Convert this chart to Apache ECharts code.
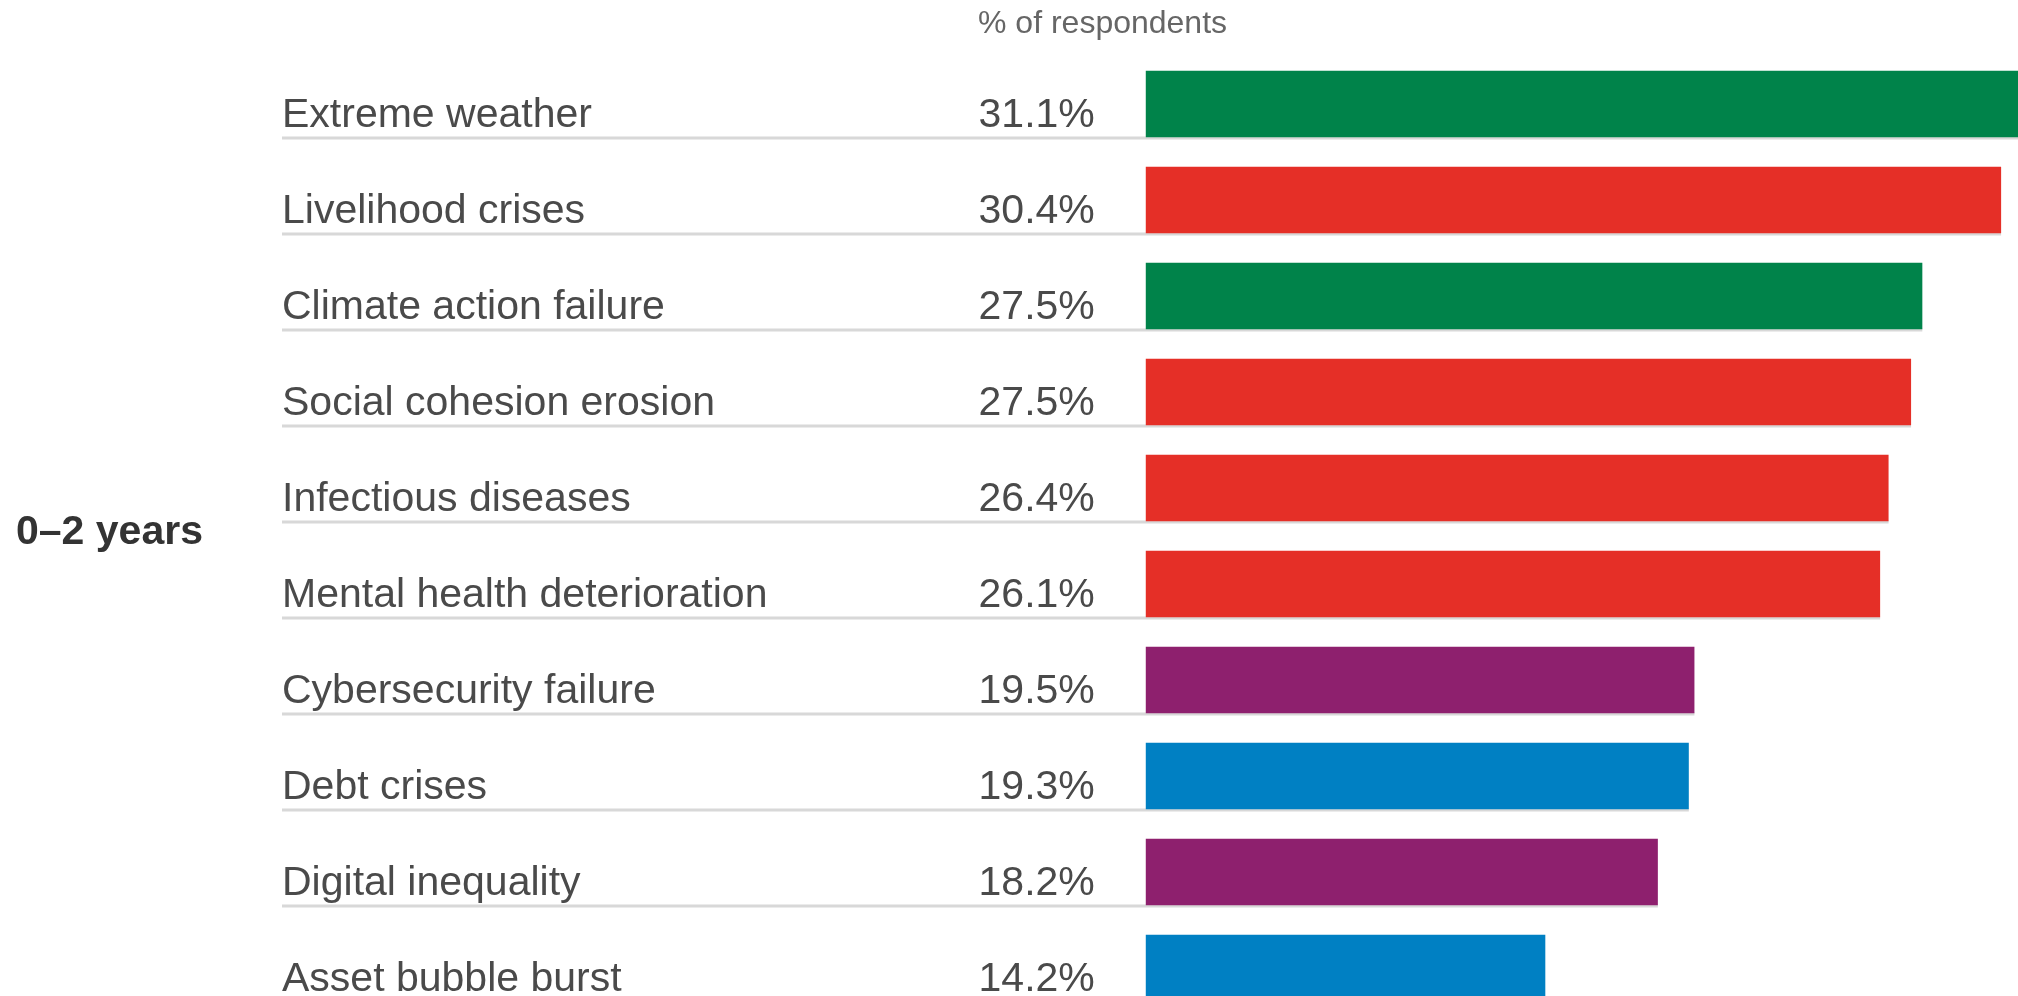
<!DOCTYPE html>
<html>
<head>
<meta charset="utf-8">
<script src="https://cdn.jsdelivr.net/npm/echarts@6/dist/echarts.min.js"></script>
<style>
  html, body { margin: 0; padding: 0; background: #ffffff; }
  #chart { width: 2018px; height: 996px; }
</style>
</head>
<body>
<div id="chart"></div>
<script>
const categories = [
  'Extreme weather',
  'Livelihood crises',
  'Climate action failure',
  'Social cohesion erosion',
  'Infectious diseases',
  'Mental health deterioration',
  'Cybersecurity failure',
  'Debt crises',
  'Digital inequality',
  'Asset bubble burst'
];
// bar lengths
const values = [31.1, 30.4, 27.6, 27.2, 26.4, 26.1, 19.5, 19.3, 18.2, 14.2];
// value labels as printed in the picture
const valueLabels = ['31.1%', '30.4%', '27.5%', '27.5%', '26.4%', '26.1%', '19.5%', '19.3%', '18.2%', '14.2%'];
const riskTypes = [
  'Environmental', 'Societal', 'Environmental', 'Societal', 'Societal',
  'Societal', 'Technological', 'Economic', 'Technological', 'Economic'
];
const unitLabel = '% of respondents';
const horizonLabel = '0\u20132 years';

const colorByType = {
  Environmental: '#00834a',
  Societal: '#e52f27',
  Technological: '#8e206e',
  Economic: '#0080c3'
};

const X_MIN = -30.7;
const X_MAX = 31;
const FONT = '"Liberation Sans", Arial, Helvetica, sans-serif';

const chart = echarts.init(document.getElementById('chart'), null, { renderer: 'canvas' });

chart.setOption({
  backgroundColor: '#ffffff',
  animation: false,
  grid: { left: 282, right: 0, top: 56, height: 960, outerBoundsMode: 'none', containLabel: false },
  xAxis: { type: 'value', min: X_MIN, max: X_MAX, show: false },
  yAxis: { type: 'category', data: categories, inverse: true, show: false },
  graphic: [
    {
      type: 'text', left: 978, top: 8,
      style: { text: unitLabel, font: '32px ' + FONT, fill: '#666666' }
    },
    {
      type: 'text', left: 16, top: 512,
      style: { text: horizonLabel, font: 'bold 41px ' + FONT, fill: '#333333' }
    }
  ],
  series: [
    {
      type: 'custom',
      z: 1,
      silent: true,
      data: values.map((v, i) => [v, i]),
      encode: { x: 0, y: 1 },
      renderItem: function (params, api) {
        const v = api.value(0);
        const i = api.value(1);
        const c0 = api.coord([0, i]);
        const yc = c0[1];
        const xl = api.coord([X_MIN, i])[0];
        const xe = api.coord([v, i])[0];
        return {
          type: 'group',
          children: [
            {
              type: 'line',
              shape: { x1: xl, y1: yc + 34, x2: xe, y2: yc + 34 },
              style: { stroke: '#d8d8d8', lineWidth: 3 }
            },
            {
              type: 'text', x: xl, y: yc + 12,
              style: {
                text: categories[i], font: '41px ' + FONT, fill: '#4a4a4a',
                align: 'left', verticalAlign: 'middle'
              }
            },
            {
              type: 'text', x: c0[0] - 51, y: yc + 12,
              style: {
                text: valueLabels[i], font: '41px ' + FONT, fill: '#4a4a4a',
                align: 'right', verticalAlign: 'middle'
              }
            }
          ]
        };
      }
    },
    {
      type: 'bar',
      z: 3,
      silent: true,
      barWidth: 66.5,
      data: values.map((v, i) => ({
        value: v,
        itemStyle: { color: colorByType[riskTypes[i]] }
      }))
    }
  ]
});
</script>
</body>
</html>
